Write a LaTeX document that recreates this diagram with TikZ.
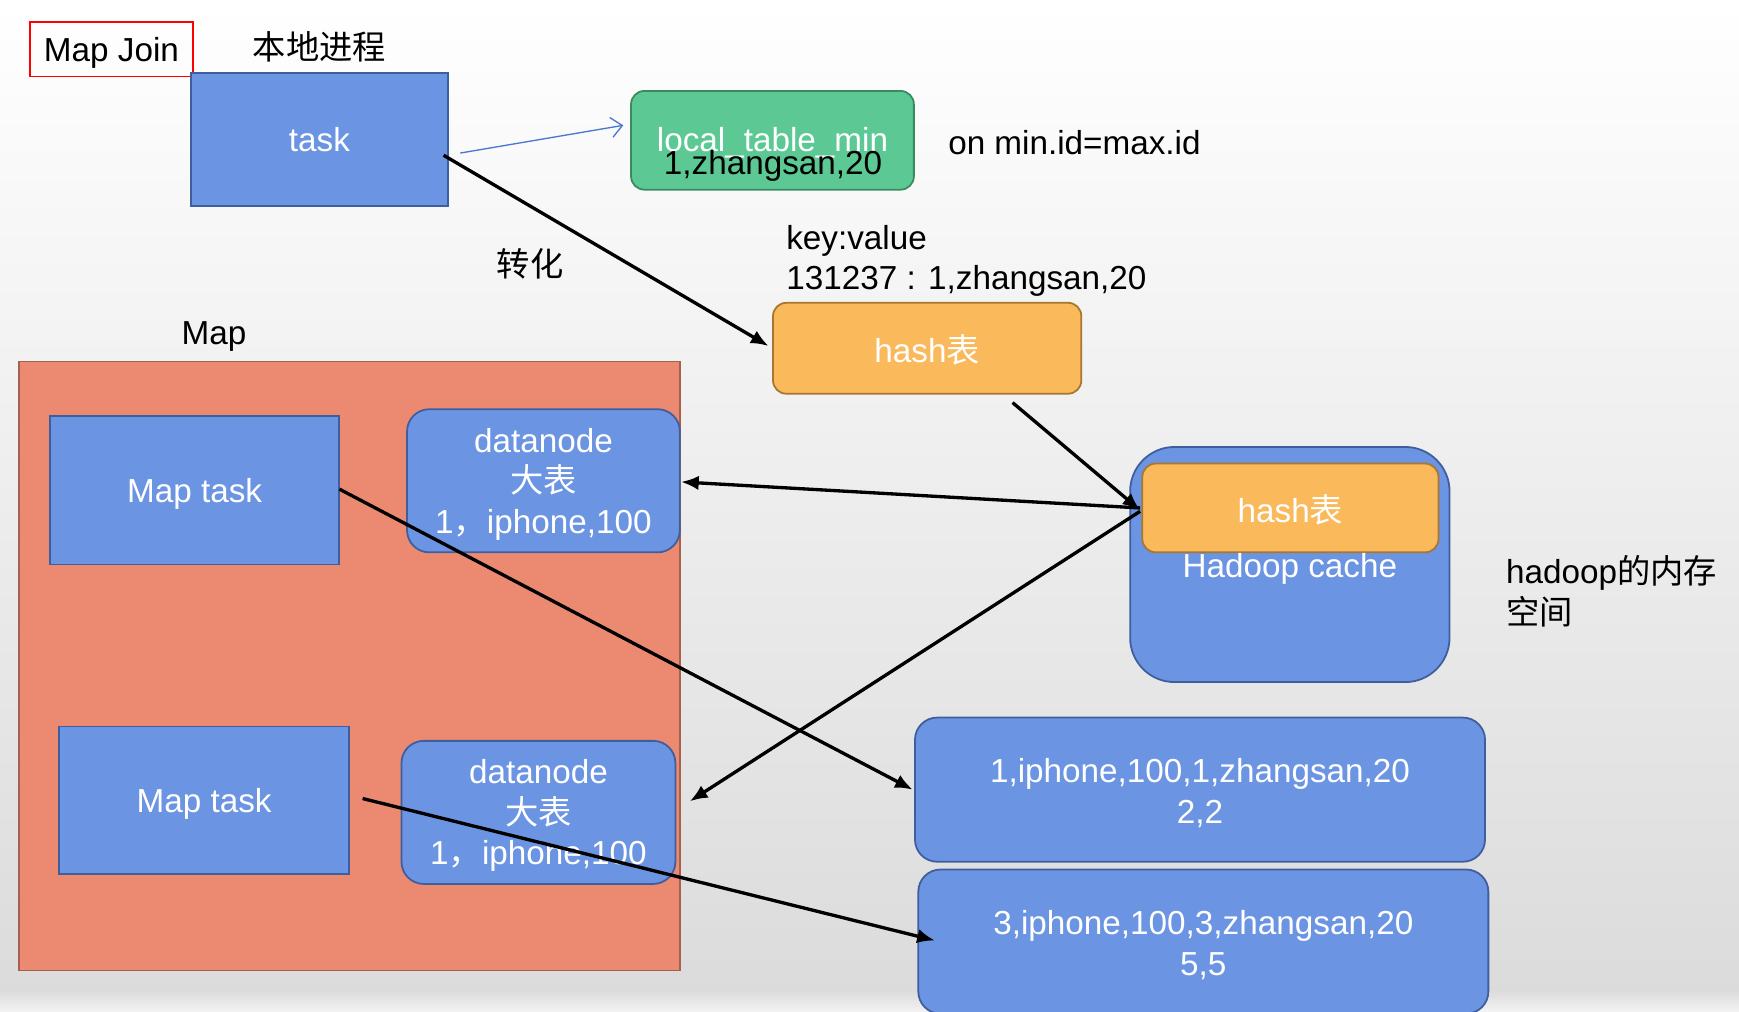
\documentclass[tikz,border=0pt]{standalone}
\usepackage{fontspec}
\setmainfont{Liberation Sans}
\newfontfamily\cjk{Noto Sans CJK SC}
\usetikzlibrary{arrows.meta,calc}
\definecolor{bfill}{HTML}{6B94E2}
\definecolor{bdraw}{HTML}{3F5E9E}
\definecolor{ofill}{HTML}{FAB95B}
\definecolor{odraw}{HTML}{A8772E}
\definecolor{gfill}{HTML}{5CC995}
\definecolor{gdraw}{HTML}{3A8A5E}
\definecolor{sfill}{HTML}{EB8A70}
\definecolor{sdraw}{HTML}{A8604E}
\definecolor{ablue}{HTML}{4A78D0}
\tikzset{
  base/.style={inner sep=0pt, outer sep=0pt, align=center, text=white},
  txt/.style={base, yshift=-1.5pt},
  txt0/.style={base},
  txtc/.style={base, yshift=-0.8pt},
  bluesq/.style={base, fill=bfill, draw=bdraw, line width=0.8pt},
  blueround/.style={bluesq, rounded corners=10pt},
  orangebox/.style={base, fill=ofill, draw=odraw, line width=0.8pt, rounded corners=6pt},
  greenbox/.style={base, fill=gfill, draw=gdraw, line width=0.8pt, rounded corners=6pt},
  mapbox/.style={base, fill=sfill, draw=sdraw, line width=0.6pt},
  lbl/.style={inner sep=0pt, outer sep=0pt, text=black, align=left},
  lbll/.style={lbl, yshift=-1.5pt},
  conn/.style={line width=1.5pt, draw=black, -{Latex[length=8pt,width=6.5pt]}},
  thinconn/.style={line width=0.6pt, draw=ablue, -{Straight Barb[length=5pt,width=9pt]}},
}
\begin{document}
\begin{tikzpicture}[x=0.5pt,y=-0.5pt, font=\fontsize{15pt}{18.25pt}\selectfont]
\useasboundingbox (0,0) rectangle (1568,912);
\shade[top color=white, bottom color=gray!28] (0,0) rectangle (1568,893);
\shade[top color=gray!28, bottom color=gray!10] (0,893) rectangle (1568,912);

% top area
\node[draw=red, line width=0.8pt, minimum width=73.5pt, minimum height=24.5pt, inner sep=0pt, outer sep=0pt,
      label={[lbll]center:Map Join}] (mapjoin) at (100.5,44.5) {};
\node[lbl] (local-proc) at (288,42) {\cjk 本地进程};
\node[bluesq, minimum width=116pt, minimum height=60pt, label={[txt0]center:task}] (task) at (288,126) {};
\node[greenbox, minimum width=127.5pt, minimum height=44.5pt] (local) at (696.5,126.5) {};
\node[txt] (localname) at (696.5,126) {local\_table\_min};
\node[lbll] (localrow) at (697,147) {1,zhangsan,20};
\node[lbl, anchor=west] (onid) at (855,129) {on min.id=max.id};
\node[lbl] (zhuanhua) at (478,238) {\cjk 转化};
\node[lbll, anchor=west] (kv) at (709,232) {key:value\\131237 : 1,zhangsan,20};
\node[orangebox, minimum width=139pt, minimum height=41pt, label={[txtc]center:hash{\cjk 表}}] (hash1) at (836,314) {};

% Map area
\node[lbll] (maplabel) at (193,300) {Map};
\node[mapbox, minimum width=298pt, minimum height=274.5pt] (map) at (315,600.5) {};
\node[bluesq, minimum width=130.5pt, minimum height=67pt, label={[txt]center:Map task}] (mt1) at (175.5,442) {};
\node[blueround, minimum width=123pt, minimum height=64.5pt,
      label={[txt]center:{datanode\\{\cjk 大表}\\1{\cjk ，}iphone,100}}] (dn1) at (490,433.5) {};
\node[bluesq, minimum width=131pt, minimum height=66.5pt, label={[txt]center:Map task}] (mt2) at (184,721.5) {};
\node[blueround, minimum width=123.5pt, minimum height=64.5pt,
      label={[txt]center:{datanode\\{\cjk 大表}\\1{\cjk ，}iphone,100}}] (dn2) at (485.5,732.5) {};

% Hadoop cache
\node[bluesq, rounded corners=20pt, minimum width=144pt, minimum height=106pt] (cache) at (1163,509) {};
\node[orangebox, minimum width=133.5pt, minimum height=40pt, label={[txtc]center:hash{\cjk 表}}] (hash2) at (1163.5,458) {};
\node[txt] (cachelabel) at (1163,510) {Hadoop cache};
\node[lbl, anchor=west] (mem) at (1358,533) {hadoop{\cjk 的内存}\\{\cjk 空间}};

% results
\node[blueround, minimum width=257pt, minimum height=65pt,
      label={[txt]center:{1,iphone,100,1,zhangsan,20\\2,2}}] (res1) at (1082,712) {};
\node[blueround, minimum width=257pt, minimum height=65pt,
      label={[txt]center:{3,iphone,100,3,zhangsan,20\\5,5}}] (res2) at (1085,849) {};

% connectors
\draw[thinconn] ($(task.east)+(11,12)$) -- ($(local.west)+(-7,-13.5)$);
\draw[conn] ($(task.east)+(-4,14)$) -- ($(hash1.west)+(-4,-2)$);
\draw[conn] ($(hash1.south)+(77,8)$) -- ($(hash2.west)+(-2,2)$);
\draw[conn] ($(hash2.west)+(-2,0)$) -- ($(dn1.east)+(1,1)$);
\draw[conn] ($(hash2.west)+(-2,3)$) -- ($(dn2.east)+(13,-10)$);
\draw[conn] ($(mt1.east)+(0,-1)$) -- ($(res1.west)+(-2,0)$);
\draw[conn] ($(mt2.east)+(12,-1.5)$) -- ($(res2.west)+(15,-1)$);
\end{tikzpicture}
\end{document}
